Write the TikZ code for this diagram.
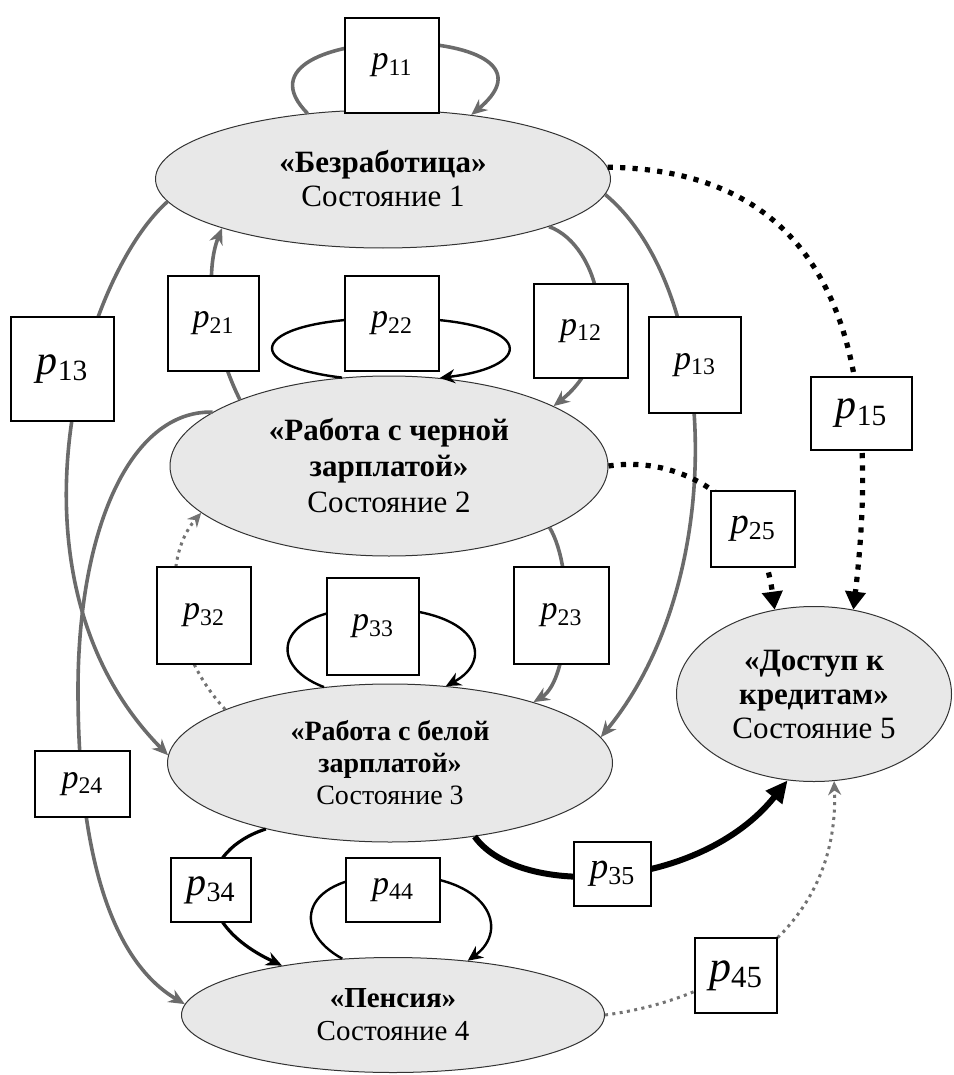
\documentclass[tikz,border=0pt]{standalone}
\usepackage{fontspec}
\setmainfont{Liberation Serif}
\usetikzlibrary{shapes.geometric,arrows.meta}

\newcommand{\pl}[1]{\textit{p}\textsubscript{#1}}

\begin{document}
\begin{tikzpicture}[x=0.5pt,y=-0.5pt]

  \tikzstyle{state} = [draw=black!80, fill=black!9, ellipse, inner sep=0pt, align=center, line width=0.5pt]
  \tikzstyle{pbox} = [draw, fill=white, rectangle, inner sep=0pt, line width=0.6pt, font=\fontsize{17}{17}\selectfont]
  \tikzstyle{grayline} = [-{Stealth[length=8pt,width=7pt]}, draw=black!58, line width=1.8pt]
  \tikzstyle{graydots} = [-{Stealth[length=7pt,width=6.5pt]}, draw=black!55, line width=1.5pt, dash pattern=on 1.5pt off 2.2pt]
  \tikzstyle{blackloop} = [-{Stealth[length=7.5pt,width=7pt]}, draw=black, line width=1.2pt]
  \tikzstyle{blackline} = [-{Stealth[length=8pt,width=7pt]}, draw=black, line width=1.6pt]
  \tikzstyle{heavyline} = [-{Triangle[length=11pt,width=10pt]}, draw=black, line width=3pt]
  \tikzstyle{dotline} = [-{Triangle[length=9pt,width=10pt]}, draw=black, line width=2.6pt, dash pattern=on 2.6pt off 3.6pt]

  \useasboundingbox (0,0) rectangle (953,1075);

  % states
  \node[state, minimum width=227.5pt, minimum height=69pt, font=\fontsize{15.5}{17}\selectfont] (s1) at (383,179)
    {\textbf{«Безработица»}\\Состояние 1};
  \node[state, minimum width=219pt, minimum height=90pt, font=\fontsize{15.5}{18}\selectfont] (s2) at (389,466)
    {\textbf{«Работа с черной}\\\textbf{зарплатой»}\\Состояние 2};
  \node[state, minimum width=222.5pt, minimum height=79pt, font=\fontsize{14}{16}\selectfont] (s3) at (390,763)
    {\textbf{«Работа с белой}\\\textbf{зарплатой»}\\Состояние 3};
  \node[state, minimum width=211.5pt, minimum height=57.5pt, font=\fontsize{14.5}{16.5}\selectfont] (s4) at (393,1015)
    {\textbf{«Пенсия»}\\Состояние 4};
  \node[state, minimum width=137.5pt, minimum height=87.5pt, font=\fontsize{15.5}{17}\selectfont] (s5) at (814,694)
    {\textbf{«Доступ к}\\\textbf{кредитам»}\\Состояние 5};

  % gray transitions
  \draw[grayline] (s1.139) .. controls (215,20) and (585,20) .. (s1.36);
  \draw[grayline] (s2.156) .. controls (210,340) and (205,270) .. (s1.197);
  \draw[grayline] (s1.344) .. controls (600,245) and (625,350) .. (s2.20);
  \draw[grayline] (s1.356) .. controls (720,290) and (730,580) .. (s3.7);
  \draw[grayline] (s1.186) .. controls (80,280) and (-5,580) .. (s3.178);
  \draw[grayline] (s2.163) .. controls (130,410) and (78,530) .. (78,690)
                          .. controls (78,850) and (110,960) .. (s4.177);
  \draw[grayline] (s2.339) .. controls (575,570) and (570,680) .. (s3.23);
  \draw[graydots] (s3.162) .. controls (170,650) and (160,560) .. (s2.194);
  \draw[graydots] (s4.east) .. controls (720,1000) and (840,930) .. (s5.283);

  % black transitions
  \draw[blackloop] (s2.118) .. controls (235,365) and (250,318) .. (392,318)
                           .. controls (535,318) and (540,366) .. (s2.60);
  \draw[blackloop] (s3.131) .. controls (265,665) and (275,608) .. (373,608)
                           .. controls (480,608) and (495,660) .. (s3.54);
  \draw[blackloop] (s4.132) .. controls (290,930) and (300,875) .. (395,875)
                           .. controls (490,875) and (510,930) .. (s4.36);
  \draw[blackline] (s3.208) .. controls (200,850) and (185,920) .. (s4.156);
  \draw[heavyline] (s3.319) .. controls (520,900) and (700,890) .. (s5.253);
  \draw[dotline] (s1.3) .. controls (800,170) and (890,300) .. (s5.65);
  \draw[dotline] (s2.0) .. controls (680,455) and (760,500) .. (s5.115);

  % probabilities
  \node[pbox, minimum width=47pt, minimum height=47.5pt] (b11) at (392,65.5) {\pl{11}};
  \node[pbox, minimum width=45.5pt, minimum height=47.5pt] (b21) at (213.5,323.5) {\pl{21}};
  \node[pbox, minimum width=47pt, minimum height=47.5pt] (b22) at (392,323.5) {\pl{22}};
  \node[pbox, minimum width=51.5pt, minimum height=52pt, font=\fontsize{21}{21}\selectfont] (b13a) at (62.5,369) {\pl{13}};
  \node[pbox, minimum width=47pt, minimum height=47pt] (b12) at (581,331) {\pl{12}};
  \node[pbox, minimum width=46pt, minimum height=48pt] (b13b) at (695,365) {\pl{13}};
  \node[pbox, minimum width=50.5pt, minimum height=36.5pt, font=\fontsize{21}{21}\selectfont] (b15) at (861.5,413.5) {\pl{15}};
  \node[pbox, minimum width=42pt, minimum height=38pt, font=\fontsize{18.5}{18.5}\selectfont] (b25) at (753,529) {\pl{25}};
  \node[pbox, minimum width=47pt, minimum height=48.5pt] (b32) at (204,615.5) {\pl{32}};
  \node[pbox, minimum width=46pt, minimum height=48.5pt] (b33) at (373,626.5) {\pl{33}};
  \node[pbox, minimum width=47.5pt, minimum height=48.5pt] (b23) at (561.5,615.5) {\pl{23}};
  \node[pbox, minimum width=47.5pt, minimum height=33pt] (b24) at (82.5,784) {\pl{24}};
  \node[pbox, minimum width=40pt, minimum height=32pt, font=\fontsize{20}{20}\selectfont] (b34) at (211,890) {\pl{34}};
  \node[pbox, minimum width=47pt, minimum height=32pt] (b44) at (393,890) {\pl{44}};
  \node[pbox, minimum width=38.5pt, minimum height=32pt, font=\fontsize{18.5}{18.5}\selectfont] (b35) at (612.5,874) {\pl{35}};
  \node[pbox, minimum width=41pt, minimum height=37.5pt, font=\fontsize{22}{22}\selectfont] (b45) at (736,975.5) {\pl{45}};

\end{tikzpicture}
\end{document}
